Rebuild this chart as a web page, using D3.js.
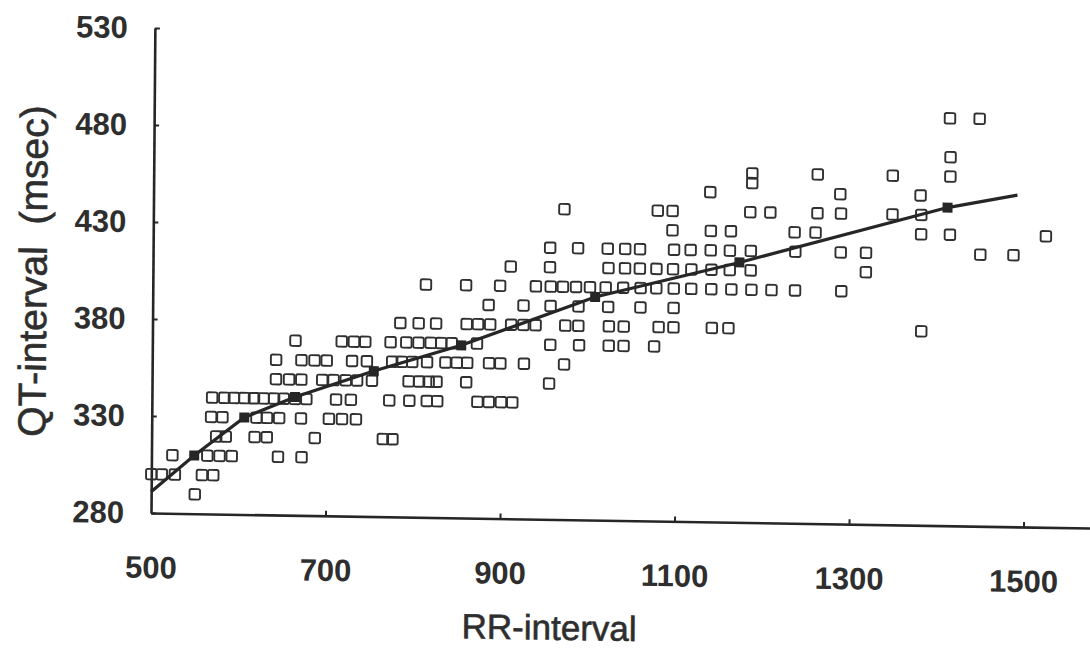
<!DOCTYPE html>
<html><head><meta charset="utf-8">
<script src="https://cdn.jsdelivr.net/npm/d3@7"></script>
<style>html,body{margin:0;padding:0;background:#fff;} svg{display:block;}</style>
</head><body><svg id="c" width="1090" height="648"></svg>
<script>
// QT level (msec) of each row of squares, and the RR-intervals read at that level
const qtRows = [290, 300, 310, 320, 330, 340, 350, 360, 370, 380, 390, 400, 410, 420, 430, 440, 450, 455, 460, 470, 490];
const rrRows = [
  [550],
  [500, 512, 527, 558, 571],
  [524, 564, 578, 592, 645, 672],
  [574, 585, 618, 632, 687, 765, 776],
  [568, 581, 620, 632, 646, 671, 703, 718, 734],
  [569, 583, 594, 606, 617, 628, 640, 651, 664, 677, 711, 728, 772, 795, 815, 827, 873, 886, 900, 913],
  [642, 657, 671, 695, 708, 722, 735, 752, 794, 806, 817, 826, 860, 955],
  [642, 671, 686, 700, 729, 746, 775, 786, 798, 815, 836, 849, 861, 886, 899, 926, 972],
  [664, 717, 731, 744, 773, 791, 805, 819, 831, 843, 872, 956, 989, 1023, 1040, 1075],
  [784, 805, 825, 860, 873, 887, 911, 925, 939, 973, 988, 1023, 1040, 1080, 1097, 1141, 1160, 1381],
  [885, 925, 956, 988, 1022, 1059, 1097],
  [813, 859, 898, 939, 956, 970, 985, 1001, 1019, 1039, 1059, 1077, 1097, 1117, 1140, 1163, 1186, 1209, 1236, 1289],
  [910, 955, 1022, 1041, 1058, 1077, 1096, 1117, 1140, 1161, 1185, 1317],
  [955, 987, 1021, 1041, 1058, 1097, 1116, 1139, 1161, 1185, 1236, 1288, 1317, 1448, 1486],
  [1095, 1139, 1162, 1235, 1259, 1380, 1413, 1523],
  [971, 1078, 1095, 1184, 1207, 1261, 1288, 1347, 1380],
  [1138, 1287, 1379],
  [1186],
  [1186, 1261, 1347, 1413],
  [1413],
  [1412, 1446]
];
// fitted curve (binned means)
const fitRR = [500, 549, 606, 664, 754, 854, 1007, 1172, 1410, 1490];
const fitQT = [291, 310, 330, 341, 355, 369, 395, 414, 444, 451];

const xTicks = [500, 700, 900, 1100, 1300, 1500];
const yTicks = [280, 330, 380, 430, 480, 530];
const xTitle = "RR-interval";
const yTitle = "QT-interval  (msec)";

const points = [];
qtRows.forEach((qt, i) => rrRows[i].forEach(rr => points.push({rr, qt})));
const fit = fitRR.map((rr, i) => ({rr, qt: fitQT[i]}));

const svg = d3.select('#c');
const ink = '#262626';
const font = "'Liberation Sans', Arial, sans-serif";
const x = d3.scaleLinear().domain([500, 1577]).range([151, 1090.7]);
const y = d3.scaleLinear().domain([280, 530]).range([513, 28]);

svg.append('rect').attr('width', 1090).attr('height', 648).attr('fill', '#fff');
// the scanned figure is slightly skewed: reproduce it with a small shear about the origin
const g = svg.append('g')
  .attr('transform', 'translate(150,513) matrix(1,0.016,-0.008,1,0,0) translate(-150,-513)');

// y axis
const ya = g.append('g').attr('transform', `translate(${x(500)},0)`)
  .call(d3.axisLeft(y).tickValues(yTicks).tickSizeInner(-5).tickSizeOuter(0).tickPadding(27)
    .tickFormat(d3.format('d')));
// x axis
const xa = g.append('g').attr('transform', `translate(0,${y(280)})`)
  .call(d3.axisBottom(x).tickValues(xTicks).tickSizeInner(-5).tickSizeOuter(0).tickPadding(43)
    .tickFormat(d3.format('d')));
[ya, xa].forEach(a => {
  a.select('.domain').attr('stroke', ink).attr('stroke-width', 2.6);
  a.selectAll('.tick line').attr('stroke', ink).attr('stroke-width', 2);
  a.selectAll('.tick text').attr('fill', '#2e2e2e').attr('font-family', font)
    .attr('font-size', 31).attr('font-weight', 'bold');
});
xa.selectAll('.tick').filter(d => d === 500).select('line').remove();

// scatter squares
const s = 10.5;
g.append('g').selectAll('rect').data(points).join('rect')
  .attr('x', d => x(d.rr) - s / 2).attr('y', d => y(d.qt) - s / 2)
  .attr('width', s).attr('height', s).attr('rx', 1.8)
  .attr('fill', 'none').attr('stroke', '#303030').attr('stroke-width', 1.9);

// fitted line
g.append('path').datum(fit)
  .attr('d', d3.line().x(d => x(d.rr)).y(d => y(d.qt)))
  .attr('fill', 'none').attr('stroke', ink).attr('stroke-width', 3.2);
const m = 10;
g.append('g').selectAll('rect').data(fit.slice(1, -1)).join('rect')
  .attr('x', d => x(d.rr) - m / 2).attr('y', d => y(d.qt) - m / 2)
  .attr('width', m).attr('height', m).attr('fill', ink);

// titles
g.append('text').attr('x', 550).attr('y', 621).attr('dy', '0.35em')
  .attr('text-anchor', 'middle').attr('font-family', font).attr('font-size', 35)
  .attr('fill', '#2e2e2e').attr('stroke', '#2e2e2e').attr('stroke-width', 0.6).text(xTitle);
g.append('text').attr('transform', 'translate(31,273) rotate(-90)').attr('dy', '0.35em')
  .attr('text-anchor', 'middle').attr('font-family', font).attr('font-size', 39)
  .style('white-space', 'pre').attr('fill', '#2e2e2e').attr('stroke', '#2e2e2e')
  .attr('stroke-width', 0.6).text(yTitle);
</script></body></html>
